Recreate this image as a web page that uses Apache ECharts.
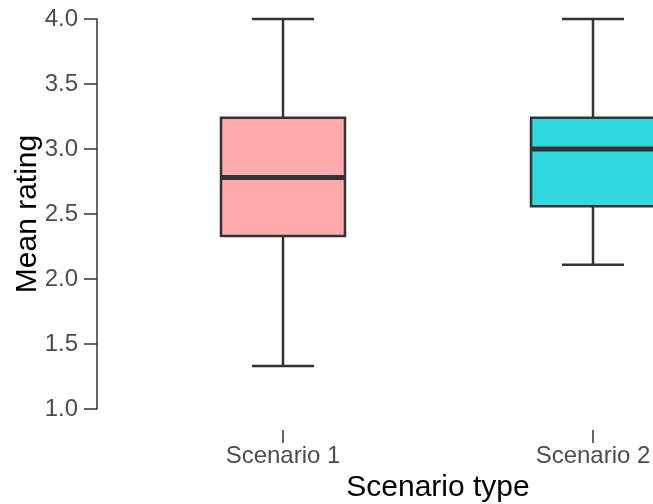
<!DOCTYPE html>
<html>
<head>
<meta charset="utf-8">
<script src="https://cdn.jsdelivr.net/npm/echarts@6/dist/echarts.min.js"></script>
<style>
  html, body { margin: 0; padding: 0; background: #fff; }
  #chart { width: 653px; height: 504px; }
</style>
</head>
<body>
<div id="chart"></div>
<script>
  // 场景类别与箱线统计值
  var categories = ['Scenario 1', 'Scenario 2'];
  var whiskerLow = [1.33, 2.11];
  var q1 = [2.33, 2.56];
  var median = [2.78, 3.0];
  var q3 = [3.24, 3.24];
  var whiskerHigh = [4.0, 4.0];
  var fills = ['#ffaaab', '#2fd9df'];

  var boxData = categories.map(function (c, i) {
    return [i, whiskerLow[i], q1[i], median[i], q3[i], whiskerHigh[i]];
  });

  var chart = echarts.init(document.getElementById('chart'));

  function renderBox(params, api) {
    var idx = api.value(0);
    var band = api.size([1, 0])[0];
    var half = band * 0.2;
    var cap = half / 2;
    var lo = api.coord([idx, api.value(1)]);
    var b1 = api.coord([idx, api.value(2)]);
    var md = api.coord([idx, api.value(3)]);
    var b3 = api.coord([idx, api.value(4)]);
    var hi = api.coord([idx, api.value(5)]);
    var x = lo[0];
    var line = { stroke: '#333333', lineWidth: 2.5 };
    return {
      type: 'group',
      children: [
        { type: 'line', shape: { x1: x, y1: hi[1], x2: x, y2: b3[1] }, style: line },
        { type: 'line', shape: { x1: x, y1: b1[1], x2: x, y2: lo[1] }, style: line },
        { type: 'line', shape: { x1: x - cap, y1: hi[1], x2: x + cap, y2: hi[1] }, style: line },
        { type: 'line', shape: { x1: x - cap, y1: lo[1], x2: x + cap, y2: lo[1] }, style: line },
        {
          type: 'rect',
          shape: { x: x - half, y: b3[1], width: half * 2, height: b1[1] - b3[1] },
          style: { fill: fills[idx], stroke: '#333333', lineWidth: 2.5 }
        },
        { type: 'line', shape: { x1: x - half, y1: md[1], x2: x + half, y2: md[1] },
          style: { stroke: '#333333', lineWidth: 5 } }
      ]
    };
  }

  var option = {
    animation: false,
    grid: { left: 128, top: 19, width: 620, height: 390, containLabel: false, outerBoundsMode: 'none' },
    xAxis: {
      type: 'category',
      data: categories,
      boundaryGap: true,
      offset: 21,
      name: 'Scenario type',
      nameLocation: 'middle',
      nameGap: 42,
      nameTextStyle: { fontFamily: 'Liberation Sans', fontSize: 30, color: '#000' },
      axisLine: { show: false },
      axisTick: { show: true, alignWithLabel: true, length: 13, lineStyle: { color: '#333', width: 1.5 } },
      axisLabel: { margin: 14, fontFamily: 'Liberation Sans', fontSize: 24, color: '#4d4d4d' },
      splitLine: { show: false }
    },
    yAxis: {
      type: 'value',
      min: 1,
      max: 4,
      interval: 0.5,
      offset: 31,
      name: 'Mean rating',
      nameLocation: 'middle',
      nameGap: 54,
      nameMoveOverlap: false,
      nameTextStyle: { fontFamily: 'Liberation Sans', fontSize: 30, color: '#000' },
      axisLine: { show: true, lineStyle: { color: '#333', width: 1.5 } },
      axisTick: { show: true, length: 13, lineStyle: { color: '#333', width: 1.5 } },
      axisLabel: {
        margin: 19, fontFamily: 'Liberation Sans', fontSize: 24, color: '#4d4d4d',
        formatter: function (v) { return v.toFixed(1); }
      },
      splitLine: { show: false }
    },
    series: [{
      type: 'custom',
      renderItem: renderBox,
      encode: { x: 0, y: [1, 2, 3, 4, 5] },
      data: boxData,
      clip: false
    }]
  };

  chart.setOption(option);
  window.addEventListener('resize', function () {
    chart.resize();
  });
</script>
</body>
</html>
